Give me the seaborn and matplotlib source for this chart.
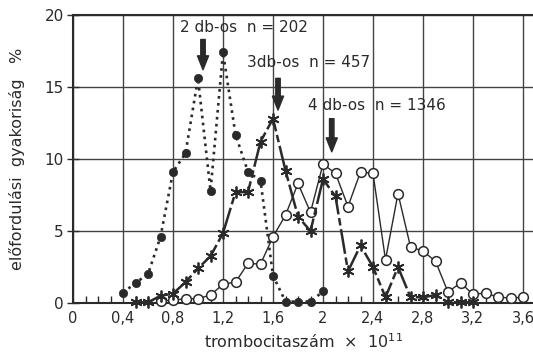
import numpy as np
import pandas as pd
import matplotlib
matplotlib.use("Agg")
import matplotlib.pyplot as plt
import seaborn as sns

# ---- data ----
x2 = [0.4, 0.5, 0.6, 0.7, 0.8, 0.9, 1.0, 1.1, 1.2, 1.3, 1.4, 1.5, 1.6, 1.7, 1.8, 1.9, 2.0]
y2 = [0.7, 1.4, 2.0, 4.6, 9.1, 10.4, 15.6, 7.8, 17.4, 11.7, 9.1, 8.5, 1.9, 0.1, 0.1, 0.1, 0.8]

x3 = [0.5, 0.6, 0.7, 0.8, 0.9, 1.0, 1.1, 1.2, 1.3, 1.4, 1.5, 1.6, 1.7, 1.8,
      1.9, 2.0, 2.1, 2.2, 2.3, 2.4, 2.5, 2.6, 2.7, 2.8, 2.9, 3.0, 3.1, 3.2]
y3 = [0.05, 0.05, 0.5, 0.65, 1.45, 2.4, 3.25, 4.85, 7.7, 7.7, 11.2, 12.8, 9.2, 6.0,
      5.0, 8.6, 7.4, 2.2, 4.0, 2.5, 0.4, 2.5, 0.4, 0.4, 0.55, 0.05, 0.05, 0.05]

x4 = [0.7, 0.8, 0.9, 1.0, 1.1, 1.2, 1.3, 1.4, 1.5, 1.6, 1.7, 1.8, 1.9, 2.0, 2.1,
      2.2, 2.3, 2.4, 2.5, 2.6, 2.7, 2.8, 2.9, 3.0, 3.1, 3.2, 3.3, 3.4, 3.5, 3.6]
y4 = [0.15, 0.2, 0.3, 0.3, 0.55, 1.3, 1.45, 2.75, 2.7, 4.6, 6.1, 8.3, 6.3, 9.65, 9.0,
      6.7, 9.1, 9.0, 3.0, 7.6, 3.9, 3.6, 2.9, 0.76, 1.4, 0.6, 0.7, 0.4, 0.35, 0.4]

xticks = [0, 0.4, 0.8, 1.2, 1.6, 2.0, 2.4, 2.8, 3.2, 3.6]
xticklabels = ["0", "0,4", "0,8", "1,2", "1,6", "2", "2,4", "2,8", "3,2", "3,6"]
yticks = [0, 5, 10, 15, 20]

labels = ["2 db-os  n = 202", "3db-os  n = 457", "4 db-os  n = 1346"]
arrow_x = [1.04, 1.64, 2.07]

sns.set_theme(style="white")
plt.rcParams["font.family"] = ["DejaVu Sans"]
ink = "#2a2a2a"

fig = plt.figure(figsize=(5.33, 3.58), dpi=100)
ax = fig.add_axes([73/533, 55/358, 460/533, 288/358])

df2 = pd.DataFrame({"x": x2, "y": y2})
df3 = pd.DataFrame({"x": x3, "y": y3})
df4 = pd.DataFrame({"x": x4, "y": y4})

sns.lineplot(data=df4, x="x", y="y", ax=ax, color=ink, lw=1.0, marker="o",
             markersize=7, markerfacecolor="white", markeredgecolor=ink,
             markeredgewidth=1.1, clip_on=False, zorder=4)
sns.lineplot(data=df3, x="x", y="y", ax=ax, color=ink, lw=1.8, marker=(6, 2, 0),
             markersize=8.5, markeredgecolor=ink, markeredgewidth=1.3,
             clip_on=False, zorder=5)
ax.lines[-1].set_dashes((10, 1.5, 3, 1.5))
sns.lineplot(data=df2, x="x", y="y", ax=ax, color=ink, lw=1.9, linestyle=":",
             marker="o", markersize=6, markerfacecolor=ink, markeredgecolor=ink,
             markeredgewidth=0.5, clip_on=False, zorder=6)

ax.set_xlim(0, 3.68)
ax.set_ylim(0, 20)
ax.set_xticks(xticks)
ax.set_xticklabels(xticklabels)
ax.set_xticks(np.arange(0, 3.61, 0.1), minor=True)
ax.set_yticks(yticks)
ax.set_yticklabels([str(v) for v in yticks])
ax.grid(True, which="major", color="#444444", lw=1.0)
ax.tick_params(axis="x", which="major", direction="in", length=6, width=1.0,
               colors=ink, labelsize=10.5, pad=6)
ax.tick_params(axis="x", which="minor", direction="in", length=5, width=1.0, colors=ink,
               bottom=True)
ax.tick_params(axis="y", which="major", direction="inout", length=9, width=1.0,
               colors=ink, labelsize=11, pad=2, left=True)
for s in ["left", "bottom", "top"]:
    ax.spines[s].set_color(ink)
    ax.spines[s].set_linewidth(1.5)
ax.spines["right"].set_visible(False)

ax.set_xlabel("trombocitaszám  ×  10$^{11}$", fontsize=11.5, color=ink, labelpad=4)
ax.set_ylabel("előfordulási  gyakoriság   %", fontsize=11.5, color=ink, labelpad=14)

# annotations
ax.text(0.86, 19.1, labels[0], fontsize=11, color=ink, va="center", ha="left")
ax.text(1.39, 16.7, labels[1], fontsize=11, color=ink, va="center", ha="left")
ax.text(1.88, 13.7, labels[2], fontsize=11, color=ink, va="center", ha="left")
arrow_tops = [18.3, 15.6, 12.8]
arrow_tips = [16.2, 13.4, 10.5]
for xa, yt, yb in zip(arrow_x, arrow_tops, arrow_tips):
    ax.annotate("", xy=(xa, yb), xytext=(xa, yt),
                arrowprops=dict(width=3.2, headwidth=8, headlength=10,
                                color=ink, shrink=0))

fig.savefig("out.png", dpi=100, facecolor="white")
